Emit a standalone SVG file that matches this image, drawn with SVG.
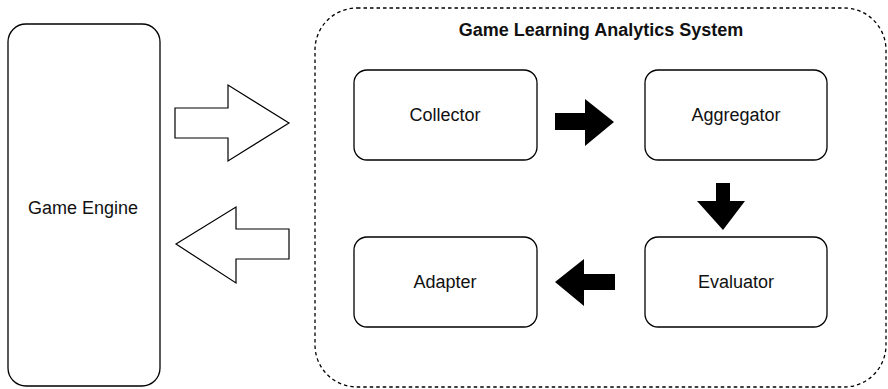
<svg xmlns="http://www.w3.org/2000/svg" width="888" height="389" viewBox="0 0 888 389">
<style>
.box{fill:#fff;stroke:#000;stroke-width:1.3}
.lbl{font-family:"Liberation Sans",Arial,sans-serif;font-size:18px;fill:#111;text-anchor:middle;dominant-baseline:central}
.title{font-family:"Liberation Sans",Arial,sans-serif;font-size:18px;font-weight:bold;fill:#111;text-anchor:middle;dominant-baseline:central}
.hollow{fill:#fff;stroke:#000;stroke-width:1.2;stroke-linejoin:miter}
.solid{fill:#000;stroke:none}
</style>
<rect width="888" height="389" fill="#fff"/>
<g id="system">
<rect x="315" y="8" width="571" height="379" rx="42" ry="42" fill="none" stroke="#000" stroke-width="1.3" stroke-dasharray="3.5 3"/>
<text class="title" x="601" y="30">Game Learning Analytics System</text>
</g>
<g id="game-engine">
<rect class="box" x="8" y="24" width="152" height="362" rx="18" ry="18"/>
<text class="lbl" x="83" y="208">Game Engine</text>
</g>
<g id="collector">
<rect class="box" x="354" y="70" width="183" height="90" rx="13" ry="13"/>
<text class="lbl" x="445" y="115">Collector</text>
</g>
<g id="aggregator">
<rect class="box" x="645" y="70" width="182" height="90" rx="13" ry="13"/>
<text class="lbl" x="736" y="115">Aggregator</text>
</g>
<g id="adapter">
<rect class="box" x="354" y="237" width="183" height="90" rx="13" ry="13"/>
<text class="lbl" x="445" y="282">Adapter</text>
</g>
<g id="evaluator">
<rect class="box" x="645" y="237" width="182" height="90" rx="13" ry="13"/>
<text class="lbl" x="736" y="282">Evaluator</text>
</g>
<g id="connectors">
<polygon class="hollow" points="175,108 228,108 228,85 289,123 228,161 228,138 175,138"/>
<polygon class="hollow" points="289,229 236,229 236,207 176,244 236,283 236,259 289,259"/>
<polygon class="solid" points="555,113 585,113 585,99 614,122 585,146 585,130 555,130"/>
<polygon class="solid" points="716,183 730,183 730,201 745,201 723,230 697,201 716,201"/>
<polygon class="solid" points="615,274 584,274 584,259 555,282 584,306 584,290 615,290"/>
</g>
</svg>
